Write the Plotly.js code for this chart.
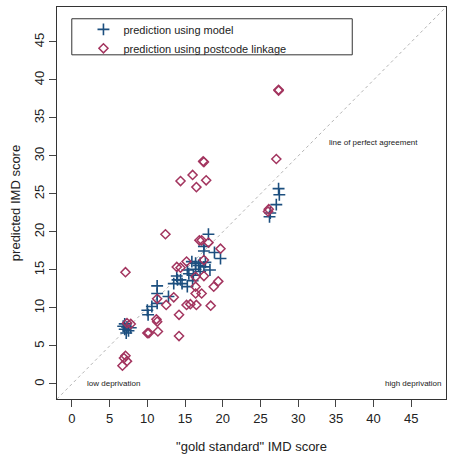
<!DOCTYPE html>
<html>
<head>
<meta charset="utf-8">
<script src="https://cdn.plot.ly/plotly-3.0.1.min.js"></script>
<style>
  html, body { margin: 0; padding: 0; background: #fff; }
  #chart { width: 450px; height: 454px; }
</style>
</head>
<body>
<div id="chart"></div>
<script>
// IMD score: "gold standard" vs predicted, two prediction methods
const modelGold = [27.4, 27.5, 27.1, 26.3, 26.2, 18.1, 17.5, 17.5, 18.9, 19.7,
  15.9, 16.4, 17.0, 16.8, 17.5, 15.3, 16.4, 18.3, 16.1, 13.9,
  14.4, 14.0, 13.5, 14.6, 15.3, 16.0, 17.0, 11.3, 11.3, 12.8,
  11.3, 10.6, 10.0, 10.1, 7.0, 7.3, 7.0, 7.5, 7.2, 7.8,
  6.8, 15.5, 17.7];
const modelPred = [25.7, 24.9, 23.6, 22.5, 22.0, 19.7, 18.1, 17.5, 17.3, 16.5,
  16.1, 15.9, 15.9, 15.6, 15.4, 15.0, 15.1, 15.0, 14.3, 14.2,
  13.7, 13.7, 13.2, 13.2, 12.8, 13.6, 14.8, 12.9, 11.9, 11.5,
  10.6, 10.2, 9.7, 9.1, 7.9, 7.5, 7.2, 7.0, 6.7, 7.4,
  7.6, 14.5, 16.0];

const postGold = [27.4, 27.4, 27.1, 17.4, 17.5, 16.0, 14.4, 17.8, 16.5, 26.1,
  26.0, 12.4, 16.9, 17.2, 18.1, 19.7, 15.2, 17.5, 13.9, 14.4,
  7.1, 16.4, 17.5, 19.4, 18.8, 16.4, 16.4, 17.2, 13.5, 11.3,
  12.5, 15.2, 15.7, 16.5, 18.4, 11.2, 11.3, 14.2, 14.2, 10.0,
  10.2, 11.4, 7.3, 7.8, 6.9, 7.1, 7.3, 6.7];
const postPred = [38.7, 38.6, 29.6, 29.3, 29.2, 27.5, 26.7, 26.8, 25.9, 23.0,
  22.7, 19.7, 18.9, 18.9, 18.6, 17.8, 16.1, 16.3, 15.4, 15.3,
  14.7, 14.1, 14.2, 13.5, 12.8, 12.8, 11.9, 11.9, 11.4, 11.2,
  10.4, 10.4, 10.5, 10.4, 10.3, 8.5, 8.2, 9.1, 6.3, 6.7,
  6.7, 6.9, 8.0, 7.9, 3.4, 3.7, 3.0, 2.4];

const tickVals = [0, 5, 10, 15, 20, 25, 30, 35, 40, 45];
const axisMin = -1.98, axisMax = 49.6;

const blue = '#1c4f7f';
const rose = '#a3355f';
const font = 'Liberation Sans, Arial, Helvetica, sans-serif';

const traces = [
  {
    x: modelGold, y: modelPred, type: 'scatter', mode: 'markers',
    name: 'prediction using model',
    marker: { symbol: 'cross-thin-open', size: 8.5, color: blue, line: { color: blue, width: 1.6 } }
  },
  {
    x: postGold, y: postPred, type: 'scatter', mode: 'markers',
    name: 'prediction using postcode linkage',
    marker: { symbol: 'diamond-open', size: 7, color: rose, line: { color: rose, width: 1.5 } }
  }
];

const axisCommon = {
  range: [axisMin, axisMax],
  tickvals: tickVals,
  ticks: 'outside', ticklen: 7, tickwidth: 1, tickcolor: '#444',
  showgrid: false, zeroline: false,
  showline: true, mirror: true, linecolor: '#333', linewidth: 1,
  tickfont: { family: font, size: 13, color: '#222' }
};

const layout = {
  width: 450, height: 454,
  margin: { l: 57, r: 4, t: 7, b: 55 },
  paper_bgcolor: '#fff', plot_bgcolor: '#fff',
  font: { family: font, color: '#222' },
  xaxis: Object.assign({}, axisCommon, {
    title: { text: '"gold standard" IMD score', font: { family: font, size: 13 }, standoff: 18 }
  }),
  yaxis: Object.assign({}, axisCommon, {
    tickangle: -90,
    title: { text: 'predicted IMD score', font: { family: font, size: 13 }, standoff: 8 }
  }),
  showlegend: true,
  legend: {
    x: 0.068, y: 0.98, xanchor: 'left', yanchor: 'top',
    bgcolor: 'rgba(0,0,0,0)', borderwidth: 0,
    font: { family: font, size: 11, color: '#222' },
    tracegroupgap: 0
  },
  shapes: [
    {
      type: 'line', xref: 'x', yref: 'y',
      x0: axisMin, y0: axisMin, x1: axisMax, y1: axisMax,
      line: { color: '#b4b4b4', width: 1, dash: 'dot' }, layer: 'below'
    },
    {
      type: 'rect', xref: 'paper', yref: 'paper',
      x0: 0.038, x1: 0.759, y0: 0.878, y1: 0.97,
      line: { color: '#333', width: 1 }, fillcolor: 'rgba(0,0,0,0)'
    }
  ],
  annotations: [
    { x: 40, y: 31.8, xref: 'x', yref: 'y', text: 'line of perfect agreement', showarrow: false,
      font: { family: font, size: 8, color: '#222' } },
    { x: 5.5, y: 0, xref: 'x', yref: 'y', text: 'low deprivation', showarrow: false,
      font: { family: font, size: 8, color: '#222' } },
    { x: 45.2, y: 0, xref: 'x', yref: 'y', text: 'high deprivation', showarrow: false,
      font: { family: font, size: 8, color: '#222' } }
  ]
};

Plotly.newPlot('chart', traces, layout, { displayModeBar: false, staticPlot: true });
</script>
</body>
</html>
